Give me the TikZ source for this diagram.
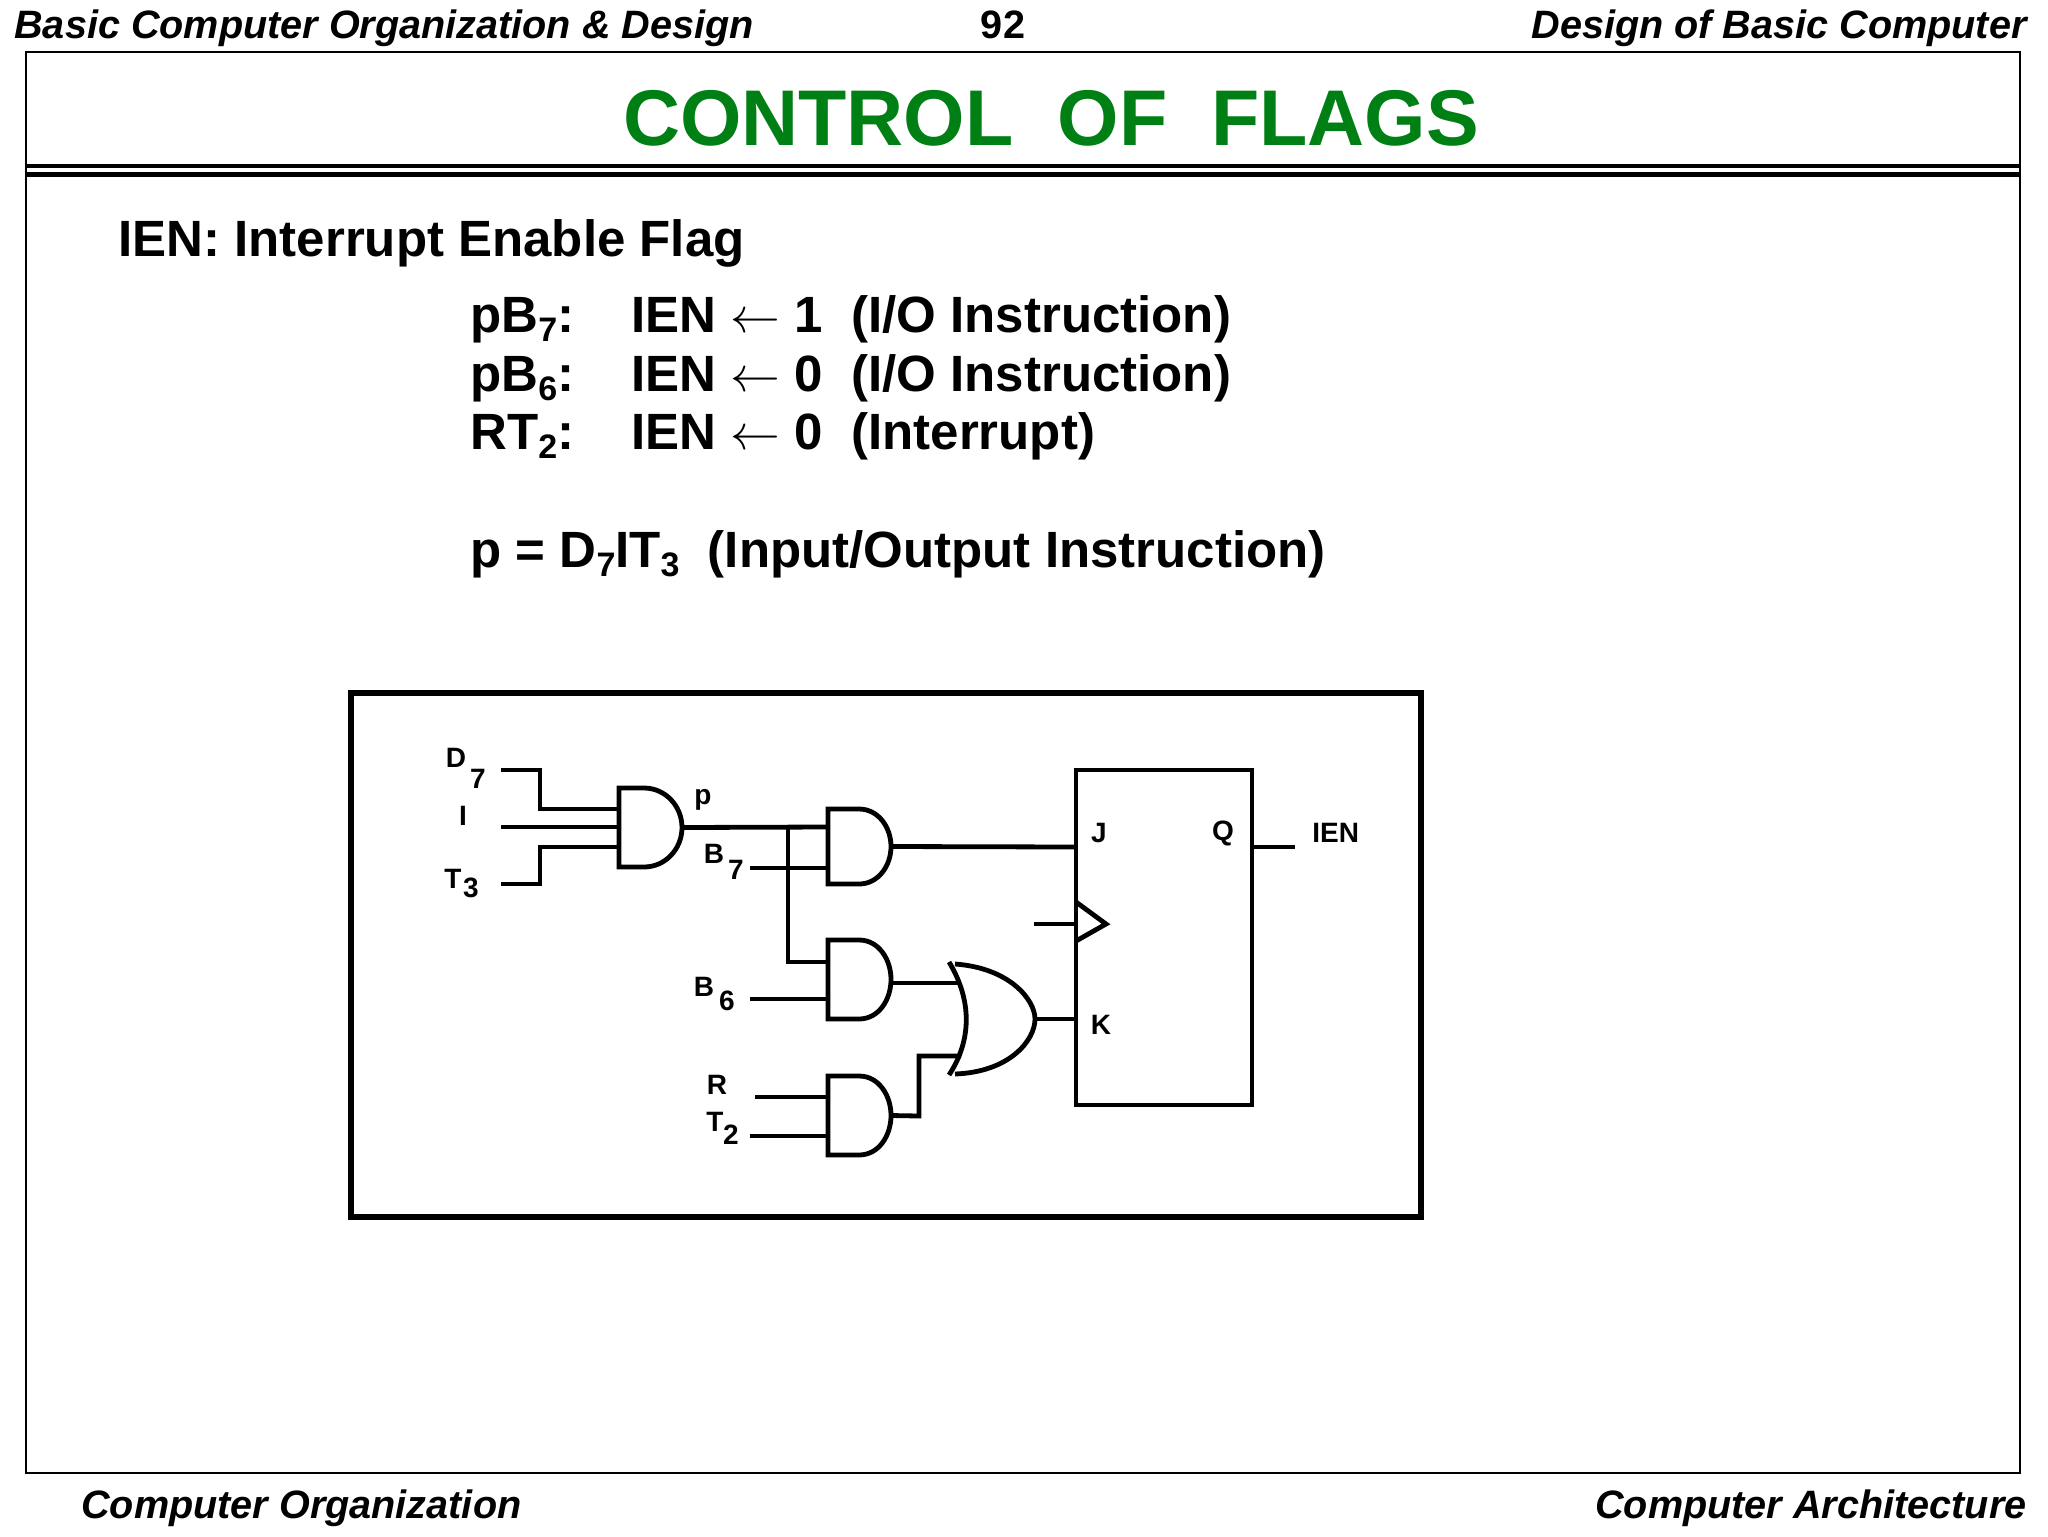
\documentclass[tikz,border=0pt]{standalone}
\usepackage{fontspec}
\setmainfont{Liberation Sans}
\definecolor{titlegreen}{RGB}{0,128,20}
\newcommand\AndG[6]{% name x0 ytop ybot xflat xright
  \draw[gate] (#2,-#3) -- (#5,-#3) to[out=0,in=90] (#6,-#3/2-#4/2) to[out=-90,in=0] (#5,-#4) -- (#2,-#4) -- cycle;
  \coordinate (#1-out) at (#6,-#3/2-#4/2);}
\newcommand\sbs[1]{\raisebox{-0.35ex}{\fontsize{17}{18}\selectfont #1}}
\begin{document}
\begin{tikzpicture}[x=0.5pt,y=0.5pt,
  wire/.style={line width=2.4pt},
  gate/.style={line width=2.4pt},
  hdr/.style={font=\fontsize{19.8}{22}\selectfont\bfseries\itshape,inner sep=0},
  body/.style={font=\fontsize{25.5}{28}\selectfont\bfseries,inner sep=0,anchor=base west},
  lbl/.style={font=\fontsize{14}{15}\selectfont\bfseries,inner sep=0}]
\useasboundingbox (0,0) rectangle (2048,-1536);
\fill[white] (0,0) rectangle (2048,-1536);
% header / footer
\node[hdr,anchor=base west] (h1) at (14,-39) {Basic Computer Organization \& Design};
\node[hdr,anchor=base,font=\fontsize{19.8}{22}\selectfont\bfseries] (h2) at (1003,-39) {92};
\node[hdr,anchor=base east] (h3) at (2027,-39) {Design of Basic Computer};
\node[hdr,anchor=base west] (f1) at (81,-1518) {Computer Organization};
\node[hdr,anchor=base east] (f2) at (2027,-1518) {Computer Architecture};
% frame
\draw[line width=1pt] (26,-52) rectangle (2020,-1473);
\draw[line width=2pt] (26,-166) -- (2020,-166);
\draw[line width=2.5pt] (26,-174) -- (2020,-174);
\node[inner sep=0,anchor=base,text=titlegreen,font=\fontsize{39.5}{42}\selectfont\bfseries] (title) at (1051,-145) {CONTROL\ \ OF\ \ FLAGS};
% body text
\node[body] (t0) at (118,-256) {IEN: Interrupt Enable Flag};
\node[body] (a1) at (470,-332) {pB\sbs{7}:};
\node[body] (b1) at (631,-332) {IEN $\leftarrow$ 1};
\node[body] (c1) at (851,-332) {(I/O Instruction)};
\node[body] (a2) at (470,-391) {pB\sbs{6}:};
\node[body] (b2) at (631,-391) {IEN $\leftarrow$ 0};
\node[body] (c2) at (851,-391) {(I/O Instruction)};
\node[body] (a3) at (470,-449) {RT\sbs{2}:};
\node[body] (b3) at (631,-449) {IEN $\leftarrow$ 0};
\node[body] (c3) at (851,-449) {(Interrupt)};
\node[body] (pe) at (470,-567) {p = D\sbs{7}IT\sbs{3}\ \ (Input/Output Instruction)};
% circuit box
\draw[line width=2.8pt] (351,-693) rectangle (1421,-1217);
% gates
\AndG{g1}{619}{788}{867}{644}{682}
\AndG{g2}{828}{809}{884}{859}{891}
\AndG{g3}{828}{940}{1019}{859}{891}
\AndG{g4}{828}{1076}{1155}{859}{891}
% OR gate
\draw[gate] (949,-962) .. controls (972,-1000) and (972,-1040) .. (949,-1075);
\draw[gate] (955,-964) .. controls (1010,-968) and (1035,-1000) .. (1035,-1019)
            .. controls (1035,-1040) and (1010,-1072) .. (955,-1074);
\coordinate (or-out) at (1035,-1019);
\coordinate (or-in1) at (961,-983);
\coordinate (or-in2) at (961,-1056);
% flip-flop
\draw[line width=2.4pt] (1076,-770) rectangle (1252,-1105);
\draw[line width=2.4pt] (1076,-902) -- (1106,-924) -- (1076,-941);
\coordinate (ffJ) at (1076,-847);
\coordinate (ffK) at (1076,-1019);
\coordinate (ffC) at (1076,-924);
\coordinate (ffQ) at (1254,-847);
\node[lbl] (J) at (1099,-833) {J};
\node[lbl] (K) at (1101,-1025) {K};
\node[lbl] (Q) at (1223,-833) {Q};
\node[lbl,anchor=west] (ien) at (1312,-833) {IEN};
% input labels
\node[lbl] (D) at (456,-758) {D};
\node[lbl] (D7) at (478,-779) {7};
\node[lbl] (I) at (463,-816) {I};
\node[lbl] (T) at (453,-879) {T};
\node[lbl] (T3) at (471,-888) {3};
\node[lbl] (p) at (703,-800) {p};
\node[lbl] (B) at (714,-854) {B};
\node[lbl] (B7) at (736,-870) {7};
\node[lbl] (Bb) at (704,-987) {B};
\node[lbl] (B6) at (727,-1001) {6};
\node[lbl] (R) at (717,-1085) {R};
\node[lbl] (Tt) at (715,-1122) {T};
\node[lbl] (T2) at (731,-1135) {2};
% wires
\coordinate (jn) at (788,-827);
\draw[wire] (501,-770) -- (540,-770) -- (540,-809) -- (619,-809);
\draw[wire] (501,-827) -- (619,-827);
\draw[wire] (501,-884) -- (540,-884) -- (540,-847) -- (619,-847);
\draw[wire] (g1-out) -- (828,-827);
\draw[wire] (jn) -- (788,-962) -- (828,-962);
\draw[wire] (750,-868) -- (828,-868);
\draw[wire] (750,-999) -- (828,-999);
\draw[wire] (755,-1097) -- (828,-1097);
\draw[wire] (750,-1136) -- (828,-1136);
\draw[wire] (g2-out) -- (ffJ);
\draw[wire] (g3-out) |- (or-in1);
\draw[wire] (g4-out) -- (919,-1116) -- (919,-1056) -- (or-in2);
\draw[wire] (or-out) -- (ffK);
\draw[wire] (1034,-924) -- (ffC);
\draw[wire] (ffQ) -- (1295,-847);
\end{tikzpicture}
\end{document}
